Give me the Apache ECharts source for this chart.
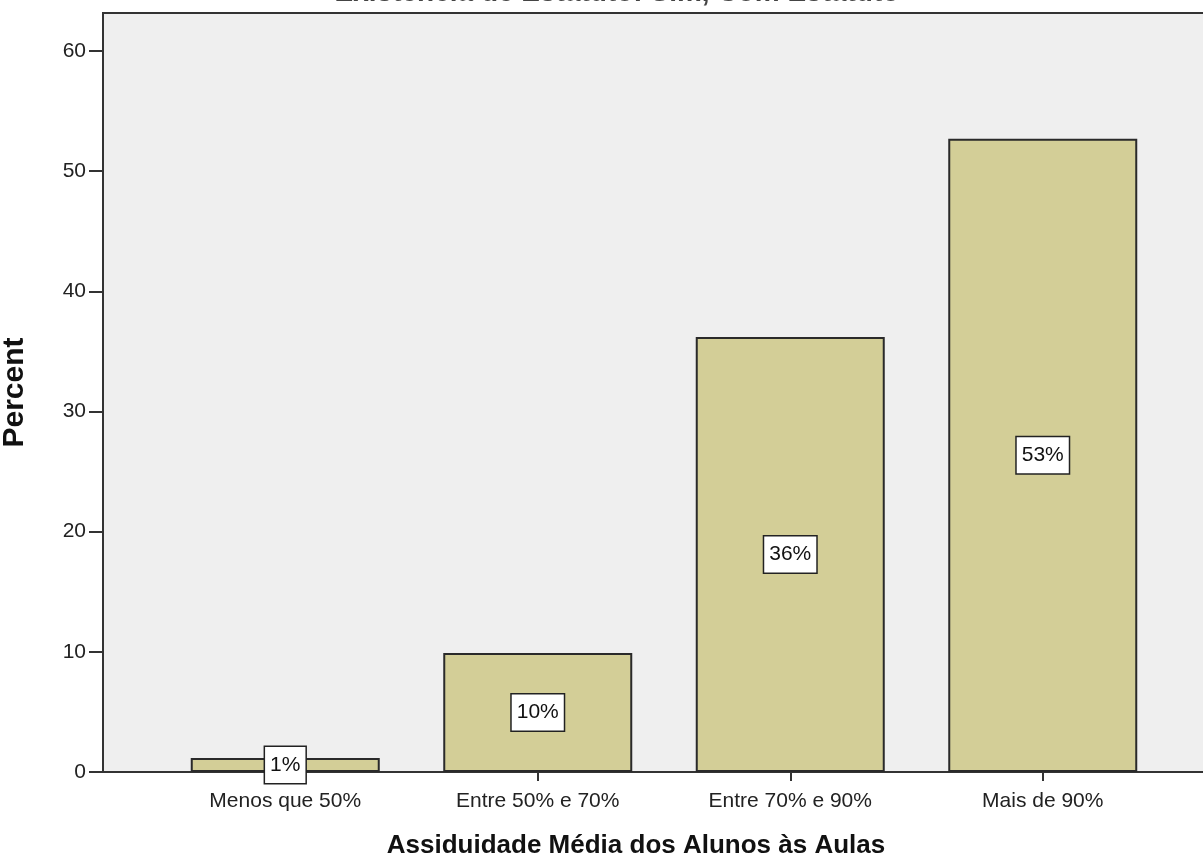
<!DOCTYPE html>
<html>
<head>
<meta charset="utf-8">
<script src="https://cdn.jsdelivr.net/npm/echarts@6/dist/echarts.min.js"></script>
<style>
html,body{margin:0;padding:0;background:#fff;}
#chart{width:1203px;height:862px;}
</style>
</head>
<body>
<div id="chart"></div>
<script>
var titleText = 'Existência de Estatuto: Sim, Com Estatuto';
var categories = ['Menos que 50%', 'Entre 50% e 70%', 'Entre 70% e 90%', 'Mais de 90%'];
var percentValues = [1.16, 9.9, 36.2, 52.7];
var percentLabels = ['1%', '10%', '36%', '53%'];
var yTicks = [0, 10, 20, 30, 40, 50, 60];
var xTitle = 'Assiduidade Média dos Alunos às Aulas';
var yTitle = 'Percent';

var yMax = 63.16;
var FONT = '"Liberation Sans", Arial, sans-serif';

var chart = echarts.init(document.getElementById('chart'), null, {renderer: 'canvas'});
chart.setOption({
  animation: false,
  backgroundColor: '#ffffff',
  title: [
    {
      text: titleText,
      left: 612, textAlign: 'center',
      top: -26,
      textStyle: {fontFamily: FONT, fontWeight: 'bold', fontSize: 28, color: '#444'}
    },
    {
      text: xTitle,
      left: 631, textAlign: 'center',
      top: 828,
      textStyle: {fontFamily: FONT, fontWeight: 'bold', fontSize: 26, color: '#111'}
    }
  ],
  grid: [
    {left: 103, right: -20, top: 13, bottom: 90, outerBoundsMode: 'none', containLabel: false,
     show: true, backgroundColor: '#efefef', borderColor: '#333', borderWidth: 2},
    {left: 159, right: 34, top: 13, bottom: 90, outerBoundsMode: 'none', containLabel: false}
  ],
  xAxis: [
    {
      gridIndex: 0, type: 'value', min: 0, max: 1,
      axisLine: {show: true, onZero: false, lineStyle: {color: '#333', width: 2}},
      axisTick: {show: false}, axisLabel: {show: false}, splitLine: {show: false}
    },
    {
      gridIndex: 1, type: 'category', data: categories,
      axisLine: {show: false},
      axisTick: {show: true, alignWithLabel: true, length: 9, lineStyle: {color: '#333', width: 2}},
      axisLabel: {fontFamily: FONT, fontSize: 21, color: '#222', margin: 19}
    }
  ],
  yAxis: [
    {
      gridIndex: 0, type: 'value', min: 0, max: yMax,
      axisLine: {show: true, lineStyle: {color: '#333', width: 2}},
      axisTick: {show: true, length: 14, customValues: yTicks, lineStyle: {color: '#333', width: 2}},
      axisLabel: {fontFamily: FONT, fontSize: 21, color: '#222', margin: 17, customValues: yTicks},
      splitLine: {show: false},
      name: yTitle, nameLocation: 'middle', nameGap: 73, nameRotate: 90,
      nameTextStyle: {fontFamily: FONT, fontWeight: 'bold', fontSize: 30, color: '#111'}
    },
    {
      gridIndex: 1, type: 'value', min: 0, max: yMax, show: false
    }
  ],
  series: [{
    type: 'bar',
    xAxisIndex: 1, yAxisIndex: 1,
    data: percentValues,
    barWidth: 189,
    itemStyle: {color: '#d3ce97', borderColor: '#2a2a2a', borderWidth: 2},
    label: {
      show: true, position: 'inside',
      formatter: function (p) { return percentLabels[p.dataIndex]; },
      fontFamily: FONT, fontSize: 21, color: '#111',
      backgroundColor: '#ffffff', borderColor: '#222', borderWidth: 1.5,
      padding: [8, 5, 7, 5]
    }
  }]
});
</script>
</body>
</html>
